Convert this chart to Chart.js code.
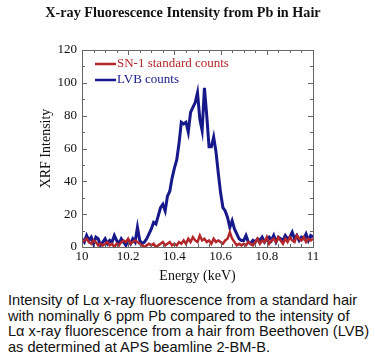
<!DOCTYPE html>
<html>
<head>
<meta charset="utf-8">
<script src="https://cdn.jsdelivr.net/npm/chart.js@4.4.1/dist/chart.umd.min.js"></script>
<style>
  html, body { margin: 0; padding: 0; background: #fff; }
  .wrap { position: relative; width: 375px; height: 361px; overflow: hidden; }
  .title { position: absolute; left: 0; top: 4px; width: 366px; text-align: center;
    font: bold 14.2px "Liberation Serif", serif; color: #111; }
  .chart { position: absolute; left: 0; top: 0; width: 375px; height: 285px; }
  .caption { position: absolute; left: 8px; top: 293px; width: 367px; white-space: nowrap;
    font: 14.6px "Liberation Sans", Arial, sans-serif; line-height: 15.7px; color: #111; }
</style>
</head>
<body>
<div class="wrap">
  <div class="chart"><canvas id="c" width="375" height="285"></canvas></div>
  <div class="title">X-ray Fluorescence Intensity from Pb in Hair</div>
  <div class="caption">Intensity of Lα x-ray fluorescence from a standard hair<br>with nominally 6 ppm Pb compared to the intensity of<br>Lα x-ray fluorescence from a hair from Beethoven (LVB)<br>as determined at APS beamline 2-BM-B.</div>
</div>
<script>
const energies = [
  10.00, 10.01, 10.02, 10.03, 10.04, 10.05, 10.06, 10.07, 10.08, 10.09,
  10.10, 10.11, 10.12, 10.13, 10.14, 10.15, 10.16, 10.17, 10.18, 10.19,
  10.20, 10.21, 10.22, 10.23, 10.24, 10.25, 10.26, 10.27, 10.28, 10.29,
  10.30, 10.31, 10.32, 10.33, 10.34, 10.35, 10.36, 10.37, 10.38, 10.39,
  10.40, 10.41, 10.42, 10.43, 10.44, 10.45, 10.46, 10.47, 10.48, 10.49,
  10.50, 10.51, 10.52, 10.53, 10.54, 10.55, 10.56, 10.57, 10.58, 10.59,
  10.60, 10.61, 10.62, 10.63, 10.64, 10.65, 10.66, 10.67, 10.68, 10.69,
  10.70, 10.71, 10.72, 10.73, 10.74, 10.75, 10.76, 10.77, 10.78, 10.79,
  10.80, 10.81, 10.82, 10.83, 10.84, 10.85, 10.86, 10.87, 10.88, 10.89,
  10.90, 10.91, 10.92, 10.93, 10.94, 10.95, 10.96, 10.97, 10.98, 10.99,
  11.00
];

const standardCounts = [
  3, 4, 5, 3, 2, 4, 3, 1, 2, 1,
  2, 3, 1, 2, 0, 2, 1, 3, 4, 3,
  5, 2, 3, 4, 3, 2, 1, 0, 1, 2,
  1, 2, 0, 1, 2, 3, 1, 2, 3, 1,
  2, 1, 3, 2, 4, 2, 5, 3, 6, 4,
  3, 7, 4, 5, 3, 4, 2, 5, 3, 4,
  3, 2, 4, 5, 9, 5, 3, 1, 2, 1,
  2, 1, 3, 2, 1, 3, 5, 2, 4, 3,
  6, 2, 4, 5, 3, 6, 4, 2, 5, 3,
  6, 4, 3, 7, 5, 4, 6, 3, 5, 4,
  5
];

const lvbCounts = [
  5, 3, 7, 4, 6, 2, 6, 5, 1, 3,
  5, 2, 4, 3, 7, 4, 2, 5, 3, 1,
  4, 2, 5, 3, 12, 4, 2, 3, 5, 8,
  11, 15, 14, 19, 24, 26, 22, 31, 34, 42,
  48, 53, 63, 76, 75, 76, 70, 82, 85, 88,
  94, 78, 71, 97, 80, 61, 61, 67, 58, 45,
  33, 24, 22, 18, 12, 16, 11, 8, 5, 4,
  4, 7, 3, 2, 4, 3, 5, 4, 6, 3,
  5, 6, 4, 7, 3, 6, 5, 4, 7, 5,
  6, 9, 5, 7, 4, 6, 5, 8, 4, 7,
  6
];

const xTicks = [10, 10.2, 10.4, 10.6, 10.8, 11];
const yTicks = [0, 20, 40, 60, 80, 100, 120];

const RED = '#b3262a';
const BLUE = '#17188a';
const SERIF = '"Liberation Serif", "Times New Roman", serif';

// box + inward ticks + legend drawn inside the plot
const framePlugin = {
  id: 'frame',
  afterDatasetsDraw(chart) {
    const { ctx, chartArea: a, scales } = chart;
    const xs = scales.x, ys = scales.y;
    ctx.save();
    ctx.strokeStyle = '#666';
    ctx.lineWidth = 1;
    ctx.strokeRect(a.left + 0.5, a.top + 0.5, a.right - a.left, a.bottom - a.top);
    ctx.beginPath();
    for (let i = 0; i <= 20; i++) {
      const v = 10 + i * 0.05;
      const px = Math.round(xs.getPixelForValue(v)) + 0.5;
      const len = i % 4 === 0 ? 5 : 3;
      ctx.moveTo(px, a.bottom); ctx.lineTo(px, a.bottom - len);
      ctx.moveTo(px, a.top); ctx.lineTo(px, a.top + len);
    }
    for (let i = 0; i <= 12; i++) {
      const py = Math.round(ys.getPixelForValue(i * 10)) + 0.5;
      const len = i % 2 === 0 ? 5 : 3;
      ctx.moveTo(a.left, py); ctx.lineTo(a.left + len, py);
      ctx.moveTo(a.right, py); ctx.lineTo(a.right - len, py);
    }
    ctx.stroke();

    // legend
    ctx.font = '13px ' + SERIF;
    ctx.textBaseline = 'middle';
    chart.data.datasets.forEach((ds, i) => {
      const y = a.top + 14 + i * 16;
      ctx.strokeStyle = ds.borderColor;
      ctx.lineWidth = 2.5;
      ctx.beginPath();
      ctx.moveTo(a.left + 13, y); ctx.lineTo(a.left + 34, y);
      ctx.stroke();
      ctx.fillStyle = ds.borderColor;
      ctx.fillText(ds.label, a.left + 35, y);
    });
    ctx.restore();
  }
};

new Chart(document.getElementById('c'), {
  type: 'line',
  data: {
    datasets: [
      {
        label: 'SN-1 standard counts',
        data: energies.map((e, i) => ({ x: e, y: standardCounts[i] })),
        borderColor: RED,
        borderWidth: 2.5,
        pointRadius: 0,
        tension: 0,
      },
      {
        label: 'LVB counts',
        data: energies.map((e, i) => ({ x: e, y: lvbCounts[i] })),
        borderColor: BLUE,
        borderWidth: 3,
        pointRadius: 0,
        tension: 0,
      }
    ]
  },
  options: {
    responsive: false,
    animation: false,
    layout: { padding: { left: 38, right: 62, top: 50, bottom: 0 } },
    plugins: {
      legend: { display: false },
      tooltip: { enabled: false },
      title: { display: false }
    },
    scales: {
      x: {
        type: 'linear',
        min: 10,
        max: 11,
        afterBuildTicks: (s) => { s.ticks = xTicks.map(v => ({ value: v })); },
        afterFit: (s) => { s.height = 38; },
        grid: { display: false, drawTicks: false },
        border: { display: false },
        ticks: {
          color: '#111',
          padding: 2,
          font: { family: SERIF, size: 13 },
          callback: (v) => String(Math.round(v * 10) / 10)
        },
        title: {
          display: true,
          text: 'Energy (keV)',
          color: '#111',
          padding: { top: 0, bottom: 0 },
          font: { family: SERIF, size: 14 }
        }
      },
      y: {
        min: 0,
        max: 120,
        afterBuildTicks: (s) => { s.ticks = yTicks.map(v => ({ value: v })); },
        afterFit: (s) => { s.width = 44; },
        grid: { display: false, drawTicks: false },
        border: { display: false },
        ticks: {
          color: '#111',
          padding: 5,
          font: { family: SERIF, size: 13 }
        },
        title: {
          display: true,
          text: 'XRF Intensity',
          color: '#111',
          padding: { top: 0, bottom: 0 },
          font: { family: SERIF, size: 14 }
        }
      }
    }
  },
  plugins: [framePlugin]
});
</script>
</body>
</html>
